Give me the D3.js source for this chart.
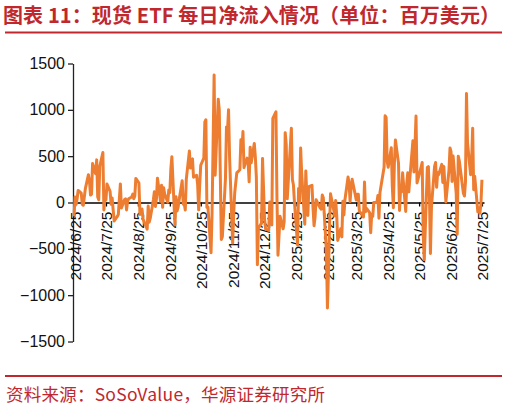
<!DOCTYPE html>
<html>
<head>
<meta charset="utf-8">
<script src="https://cdn.jsdelivr.net/npm/d3@7"></script>
<style>
  html, body { margin: 0; padding: 0; background: #ffffff; }
  svg { display: block; }
</style>
</head>
<body>
<div id="chart"></div>
<script>
// ---------------- DATA ----------------
const titleText = "图表 11：现货 ETF 每日净流入情况（单位：百万美元）";
const sourceText = "资料来源：SoSoValue，华源证券研究所";

const yTickValues = [-1500, -1000, -500, 0, 500, 1000, 1500];
const xTickLabels = ["2024/6/25","2024/7/25","2024/8/25","2024/9/25","2024/10/25","2024/11/25",
  "2024/12/25","2025/1/25","2025/2/25","2025/3/25","2025/4/25","2025/5/25","2025/6/25","2025/7/25"];

// US market holidays (non-trading days) in the period
const holidays = ["2024-07-04","2024-09-02","2024-11-28","2024-12-25","2025-01-01","2025-01-09",
  "2025-01-20","2025-02-17","2025-04-18","2025-05-26","2025-06-19","2025-07-04"];

// first calendar day of each block of daily flows
const monthStarts = ["2024-06-24","2024-07-01","2024-08-01","2024-09-01","2024-10-01","2024-11-01",
  "2024-12-01","2025-01-01","2025-02-01","2025-03-01","2025-04-01","2025-05-01","2025-06-01","2025-07-01"];

// daily net flows (USD mn), one value per trading day
const flowJun24 = [-150, 60, -20, 40, 130];
const flowJul24 = [100, -20, -30, 150, 300, 230, 80, 90, 420, 310, 460, 60, 30, 390, 540, -80, 40, 30, 200, 120, -20, 50];
const flowAug24 = [-80, -200, -150, -130, 40, 200, -60, 30, 40, -80, 15, 40, 60, 90, 40, 70, 260, 210, -130, -110, -70, -180];
const flowSep24 = [-288, -38, -212, -169, 28, 117, -43, 39, 263, 13, 187, -52, 158, 92, 4, 136, 106, 365, 494, -243];
const flowOct24 = [61, -92, -54, 25, 235, -18, -17, -81, 253, 556, 371, 458, 470, 273, 294, 192, -79, 188, 402, 479, 870, 893, -54];
const flowNov24 = [-50, -541, -116, 621, 1376, 294, 1114, 1000, 300, -400, -370, 255, 816, 773, 1000, 490, -438, -122, 105, 320];
const flowDec24 = [353, 676, 556, 766, 376, 479, 439, 223, 597, 428, 637, 493, 276, -672, -277, -226, 475, -183, -288, -300, 5];
const flowJan25 = [-242, 908, 978, 52, -568, -149, -284, -209, 753, 626, 40, 802, 248, 188, 0, -458, 150, 0, 588, 318];
const flowFeb25 = [-235, 340, 66, -140, 171, 186, -56, -251, -156, 30, -60, -72, 80, 50, -516, -1138, -754, -276, 94];
const flowMar25 = [-74, -143, 22, -134, -409, -280, -371, 13, -135, 30, 274, 209, 11, 165, 250, 84, 27, 89, 89, -93, -134];
const flowApr25 = [-157, 220, -100, -64, -109, -326, -127, -150, 1, 1, 76, -170, 107, 381, 936, 917, 442, 380, 591, 173, -56];
const flowMay25 = [422, 675, 425, -86, 142, 117, 321, -96, 200, 320, 115, 260, 667, 329, 607, 934, 211, 385, 432, -358, -616];
const flowJun25 = [378, 387, 87, -550, -47, 386, 431, 164, 322, 301, 412, 216, 389, 6, 350, 588, 548, 226, 501, 102];
const flowJul25 = [-342, 500, 450, 100, 70, 218, 1175, 644, 300, 463, 800, 137, 282, -100, -60, -116, -20, 246];

const monthlyFlows = [flowJun24, flowJul24, flowAug24, flowSep24, flowOct24, flowNov24, flowDec24,
  flowJan25, flowFeb25, flowMar25, flowApr25, flowMay25, flowJun25, flowJul25];

// ---------------- BUILD TABLE ----------------
const parseISO = d3.timeParse("%Y-%m-%d");
const fmtISO = d3.timeFormat("%Y-%m-%d");
const parseLabel = d3.timeParse("%Y/%m/%d");
const holidaySet = new Set(holidays);

const data = [];
monthlyFlows.forEach((vals, i) => {
  let d = parseISO(monthStarts[i]);
  let k = 0;
  while (k < vals.length) {
    const wd = d.getDay();
    if (wd !== 0 && wd !== 6 && !holidaySet.has(fmtISO(d))) {
      data.push({ date: new Date(d), value: vals[k] });
      k++;
    }
    d = d3.timeDay.offset(d, 1);
  }
});

// ---------------- DRAW ----------------
const W = 507, H = 409;
const red = "#c0282d";
const svg = d3.select("#chart").append("svg").attr("width", W).attr("height", H);

// title
svg.append("text")
  .attr("x", 3).attr("y", 23)
  .attr("font-family", "'Noto Sans CJK SC', sans-serif")
  .attr("font-size", 20).attr("font-weight", "bold")
  .attr("fill", red)
  .attr("textLength", 497).attr("lengthAdjust", "spacing")
  .text(titleText);
svg.append("line").attr("x1", 5).attr("x2", 502).attr("y1", 32.5).attr("y2", 32.5)
  .attr("stroke", red).attr("stroke-width", 2);

// footer
svg.append("line").attr("x1", 5).attr("x2", 502).attr("y1", 376).attr("y2", 376)
  .attr("stroke", red).attr("stroke-width", 2);
svg.append("text")
  .attr("x", 6).attr("y", 401)
  .attr("font-family", "'Noto Sans CJK SC', sans-serif")
  .attr("font-size", 17.5)
  .attr("fill", red)
  .attr("textLength", 319).attr("lengthAdjust", "spacing")
  .text(sourceText);

// scales
const x = d3.scaleTime()
  .domain([parseISO("2024-06-23"), parseISO("2025-07-27")])
  .range([73, 484]);
const y = d3.scaleLinear().domain([-1500, 1500]).range([341.5, 63.5]);

// y axis
const yAxis = svg.append("g")
  .attr("transform", "translate(73,0)")
  .call(d3.axisLeft(y).tickValues(yTickValues).tickSize(5).tickSizeOuter(0).tickFormat(d3.format("d")));
yAxis.select(".domain").attr("stroke", "#222").attr("stroke-width", 1.3);
yAxis.selectAll(".tick line").attr("stroke", "#222").attr("stroke-width", 1.3);
yAxis.selectAll(".tick text")
  .attr("x", -8)
  .attr("font-family", "'Liberation Sans', Arial, sans-serif")
  .attr("font-size", 16).attr("fill", "#111");

// x axis at zero
const xAxis = svg.append("g")
  .attr("transform", `translate(0,${y(0)})`)
  .call(d3.axisBottom(x)
    .tickValues(xTickLabels.map(parseLabel))
    .tickSize(4).tickSizeOuter(0)
    .tickFormat((d, i) => xTickLabels[i]));
xAxis.select(".domain").attr("stroke", "#000").attr("stroke-width", 1.3);
xAxis.selectAll(".tick line").attr("stroke", "#000").attr("stroke-width", 1.3);
xAxis.selectAll(".tick text")
  .attr("transform", "rotate(-90)")
  .attr("x", -9).attr("y", 0).attr("dy", "0.36em")
  .attr("text-anchor", "end")
  .attr("font-family", "'Liberation Sans', Arial, sans-serif")
  .attr("font-size", 15.5).attr("fill", "#111");

// flow line
const line = d3.line().x(d => x(d.date)).y(d => y(d.value));
svg.append("path")
  .datum(data)
  .attr("d", line)
  .attr("fill", "none")
  .attr("stroke", "#ED7D31")
  .attr("stroke-width", 3)
  .attr("stroke-linejoin", "round");
</script>
</body>
</html>
